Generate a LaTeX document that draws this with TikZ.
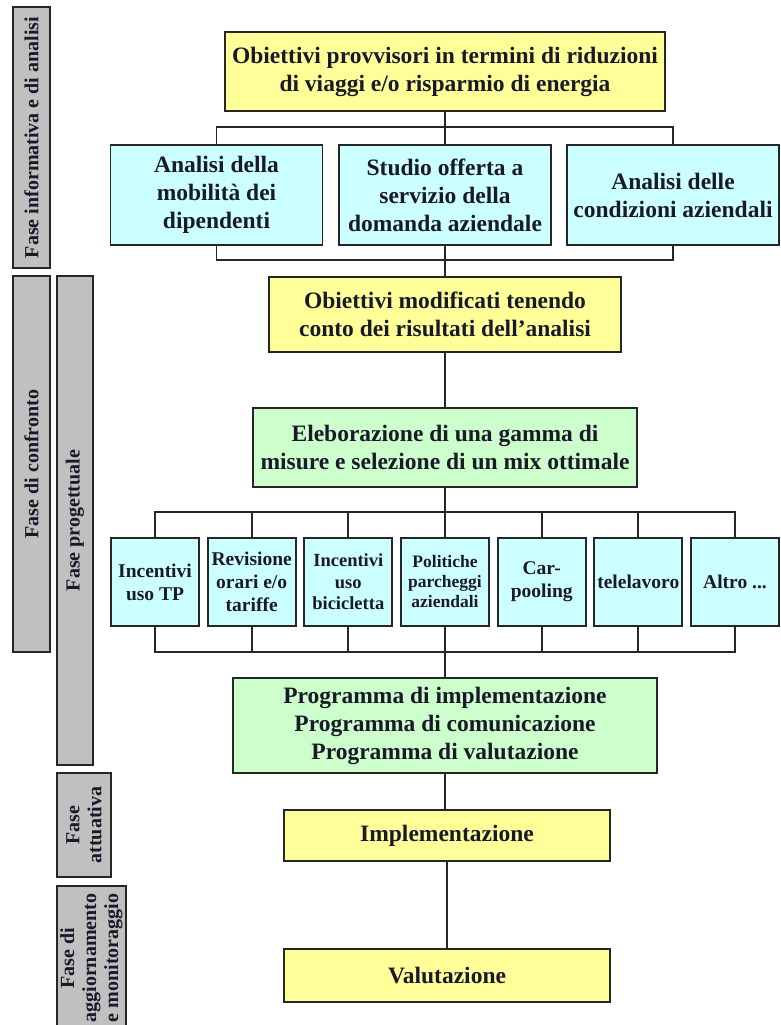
\documentclass[tikz,border=0pt]{standalone}
\usepackage{fontspec}
\setmainfont{Liberation Serif}
\usetikzlibrary{positioning,calc}
\definecolor{giallo}{RGB}{255,255,153}
\definecolor{azzurro}{RGB}{204,255,255}
\definecolor{verde}{RGB}{204,255,204}
\definecolor{grigio}{RGB}{192,192,192}
\definecolor{testo}{RGB}{25,25,40}

\begin{document}
\begin{tikzpicture}[x=1pt, y=-1pt, line width=1.9pt, draw=black!85,
box/.style={rectangle,draw,inner sep=0pt,align=center,text=testo,
  font=\fontsize{23.5}{28}\selectfont\bfseries},
obiettivo/.style={box,fill=giallo},
analisi/.style={box,fill=azzurro,minimum width=212pt,minimum height=100pt},
elaborazione/.style={box,fill=verde},
misura/.style={box,fill=azzurro,minimum width=88pt,minimum height=88pt,
  font=\fontsize{19.5}{23}\selectfont\bfseries},
fase/.style={rectangle,draw,fill=grigio,rotate=90,inner sep=0pt,align=center,
  text=testo,font=\fontsize{20}{22}\selectfont\bfseries}
  ]
  \useasboundingbox (0,0) rectangle (780,1025);

  %% fasi
  \node[fase, minimum width=261pt, minimum height=37pt] (fInfo) at (31.5,137.5) {Fase informativa e di analisi};
  \node[fase, minimum width=376pt, minimum height=37pt] (fConfr) at (31.5,464) {Fase di confronto};
  \node[fase, minimum width=489pt, minimum height=36pt] (fProg) at (75,520.5) {Fase progettuale};
  \node[fase, minimum width=104pt, minimum height=54pt] (fAtt) at (84,825) {Fase\\attuativa};
  \node[fase, minimum width=144pt, minimum height=69pt] (fAgg) at (91.5,958) {Fase di\\aggiornamento\\e monitoraggio};

  %% analisi
  \node[obiettivo, minimum width=440pt, minimum height=79pt] (top) at (445,71.5)
    {Obiettivi provvisori in termini di riduzioni\\di viaggi e/o risparmio di energia};
  \node[analisi] (mob) at (216.5,195) {Analisi della\\mobilità dei\\dipendenti};
  \node[analisi] (off) at (445,195) {Studio offerta a\\servizio della\\domanda aziendale};
  \node[analisi] (cond) at (673,195) {Analisi delle\\condizioni aziendali};
  \node[obiettivo, minimum width=352pt, minimum height=75pt] (mod) at (445,314.5)
    {Obiettivi modificati tenendo\\conto dei risultati dell'analisi};
  \node[elaborazione, minimum width=384pt, minimum height=79pt] (elab) at (445,447.5)
    {Eleborazione di una gamma di\\misure e selezione di un mix ottimale};

  %% misure
  \node[misura] (m1) at (155,582) {Incentivi\\uso TP};
  \node[misura] (m2) at (251.7,582) {Revisione\\orari e/o\\tariffe};
  \node[misura, font=\fontsize{18.5}{21.5}\selectfont\bfseries] (m3) at (348.3,582) {Incentivi\\uso\\bicicletta};
  \node[misura, font=\fontsize{17.5}{20}\selectfont\bfseries] (m4) at (445,582) {Politiche\\parcheggi\\aziendali};
  \node[misura] (m5) at (541.7,582) {Car-\\pooling};
  \node[misura] (m6) at (638.3,582) {telelavoro};
  \node[misura] (m7) at (735,582) {Altro ...};

  \node[elaborazione, minimum width=424pt, minimum height=95pt] (prog) at (445,725.5)
    {Programma di implementazione\\Programma di comunicazione\\Programma di valutazione};
  \node[obiettivo, minimum width=326pt, minimum height=51pt] (impl) at (447,835.5) {Implementazione};
  \node[obiettivo, minimum width=326pt, minimum height=53pt] (valut) at (447,975.5) {Valutazione};

  %% collegamenti
  \draw (mob.north) -- ++(0,-17) -| (cond.north);
  \draw (top.south) -- (off.north);
  \draw (mob.south) -- ++(0,14) -| (cond.south);
  \draw (off.south) -- (mod.north);
  \draw (mod.south) -- (elab.north);
  \draw (m1.north) -- ++(0,-25) -| (m7.north);
  \draw (m1.south) -- ++(0,25) -| (m7.south);
  \foreach \i in {2,...,6} {
    \draw (m\i.north) -- ++(0,-25);
    \draw (m\i.south) -- ++(0,25);
  }
  \draw (elab.south) -- (m4.north);
  \draw (m4.south) -- (prog.north);
  \draw (prog.south) -- (prog.south |- impl.north);
  \draw (impl.south) -- (impl.south |- valut.north);
\end{tikzpicture}
\end{document}
